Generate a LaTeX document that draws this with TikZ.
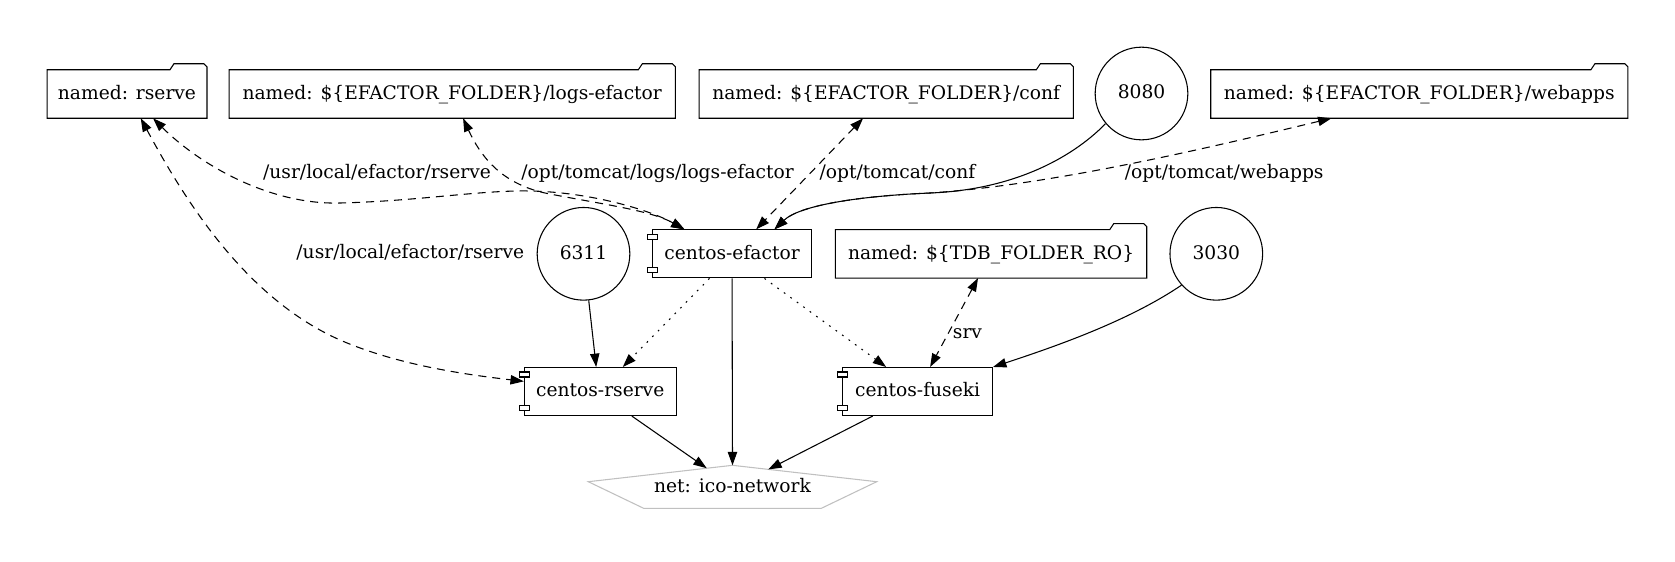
\documentclass[tikz,border=0pt]{standalone}
\usepackage{fontspec}
\setmainfont{DejaVu Serif}
\usetikzlibrary{arrows.meta,calc}
\definecolor{netgray}{HTML}{C0C0C0}
\tikzset{
  txt/.style={font=\fontsize{14bp}{16bp}\selectfont, inner sep=0pt, text height=10.5bp, text depth=2.6bp},
  folder/.style={txt, minimum height=36bp},
  comp/.style={txt, draw, line width=0.8bp, minimum height=36bp},
  port/.style={txt, draw, circle, line width=0.8bp, minimum size=69.5bp},
  lbl/.style={font=\fontsize{14bp}{16bp}\selectfont, inner sep=0pt, anchor=base},
  link/.style={line width=0.8bp, -{Triangle[length=10bp,width=7bp]}},
  mount/.style={link, {Triangle[length=10bp,width=7bp]}-{Triangle[length=10bp,width=7bp]}, dash pattern=on 6bp off 4.5bp},
  dep/.style={link, dash pattern=on 1.3bp off 4.7bp},
  outline/.style={line width=0.8bp}
}
\begin{document}
\begin{tikzpicture}[x=0.75bp,y=-0.75bp]
\useasboundingbox (0,0) rectangle (1675,561);
% nodes
\node[folder, minimum width=119.55bp] (fr) at (127,94) {named: rserve};
\node[folder, minimum width=334.3bp] (fl) at (452.2,94) {named: \$\{EFACTOR\_FOLDER\}/logs-efactor};
\node[folder, minimum width=280.3bp] (fc) at (886.2,94) {named: \$\{EFACTOR\_FOLDER\}/conf};
\node[port] (p8080) at (1141.5,93.5) {8080};
\node[folder, minimum width=312.5bp] (fw) at (1419.3,94) {named: \$\{EFACTOR\_FOLDER\}/webapps};
\node[port] (p6311) at (583.5,253.8) {6311};
\node[comp, minimum width=119.55bp] (ce) at (732,253.9) {centos-efactor};
\node[folder, minimum width=233.1bp] (ft) at (991.1,253.8) {named: \$\{TDB\_FOLDER\_RO\}};
\node[port] (p3030) at (1216.3,253.8) {3030};
\node[comp, minimum width=113.8bp] (cr) at (600.2,391.5) {centos-rserve};
\node[comp, minimum width=112.4bp] (cf) at (917.6,391.5) {centos-fuseki};
\node[txt] (net) at (732.5,487) {net: ico-network};
% folder outlines
\foreach \n in {fr,fl,fc,fw,ft}{
  \draw[outline] (\n.south west) -- (\n.north west) -- ($(\n.north east)+(-37,0)$) -- ($(\n.north east)+(-33,-6)$) -- ($(\n.north east)+(-3,-6)$) -- ($(\n.north east)+(0,-3)$) -- (\n.south east) -- cycle;
}
% component ports
\foreach \n in {ce,cr,cf}{
  \draw[outline, fill=white] ($(\n.north west)+(-4.5,5)$) rectangle ($(\n.north west)+(5.5,10)$);
  \draw[outline, fill=white] ($(\n.south west)+(-4.5,-6)$) rectangle ($(\n.south west)+(5.5,-11)$);
}
% network pentagon
\draw[outline, netgray] ($(net)+(0,-21.7)$) -- ($(net)+(144.2,-5.3)$) -- ($(net)+(88.85,21.3)$) -- ($(net)+(-88.85,21.3)$) -- ($(net)+(-144.2,-5.3)$) -- cycle;
\coordinate (netT) at ($(net)+(0,-21.7)$);
\coordinate (netL) at ($(net)+(-25.8,-18.8)$);
\coordinate (netR) at ($(net)+(35.8,-17.6)$);
% edges
\draw[mount] ($(fr.south west)+(106,0)$) .. controls (200,165) and (270,205) .. (340,203) .. controls (420,201) and (480,190) .. (530,191) .. controls (590,192) and (650,210) .. ($(ce.north west)+(32.7,0)$);
\draw[mount] ($(fr.south west)+(93.7,0)$) .. controls (190,210) and (250,300) .. (340,340) .. controls (400,366) and (470,375) .. ($(cr.north west)+(0,14.4)$);
\draw[mount] ($(fl.south west)+(234,0)$) .. controls (480,155) and (500,183) .. (545,193) .. controls (600,204) and (650,210) .. ($(ce.north west)+(32.7,0)$);
\draw[mount] ($(fc.south west)+(164,0)$) -- ($(ce.north west)+(104.4,0)$);
\draw[link] (p8080.220) .. controls (1070,160) and (1010,190) .. (930,193) .. controls (860,196) and (800,205) .. ($(ce.north west)+(122.7,0)$);
\draw[mount] ($(fw.south west)+(120.7,0)$) .. controls (1200,150) and (1050,185) .. (930,193) .. controls (860,196) and (800,205) .. ($(ce.north west)+(122.7,0)$);
\draw[link] (p6311) -- ($(cr.north west)+(72.4,0)$);
\draw[dep] ($(ce.south west)+(57.7,0)$) -- ($(cr.north west)+(99,0)$);
\draw[link] (ce) -- (netT);
\draw[dep] ($(ce.south west)+(112.7,0)$) -- ($(cf.north west)+(44,0)$);
\draw[mount] ($(ft.south west)+(142.6,0)$) -- ($(cf.north west)+(88,0)$);
\draw[link] (p3030.222) .. controls (1130,320) and (1060,345) .. (cf.north east);
\draw[link] ($(cr.south west)+(108,0)$) -- (netL);
\draw[link] ($(cf.south west)+(30.6,0)$) -- (netR);
% labels
\node[lbl] (l1) at (377,178.3) {/usr/local/efactor/rserve};
\node[lbl] (l2) at (410.3,258) {/usr/local/efactor/rserve};
\node[lbl] (l3) at (657.6,178.3) {/opt/tomcat/logs/logs-efactor};
\node[lbl] (l4) at (897.5,178.3) {/opt/tomcat/conf};
\node[lbl] (l5) at (1224.2,178.3) {/opt/tomcat/webapps};
\node[lbl] (l6) at (967.5,338.3) {srv};
\end{tikzpicture}
\end{document}
